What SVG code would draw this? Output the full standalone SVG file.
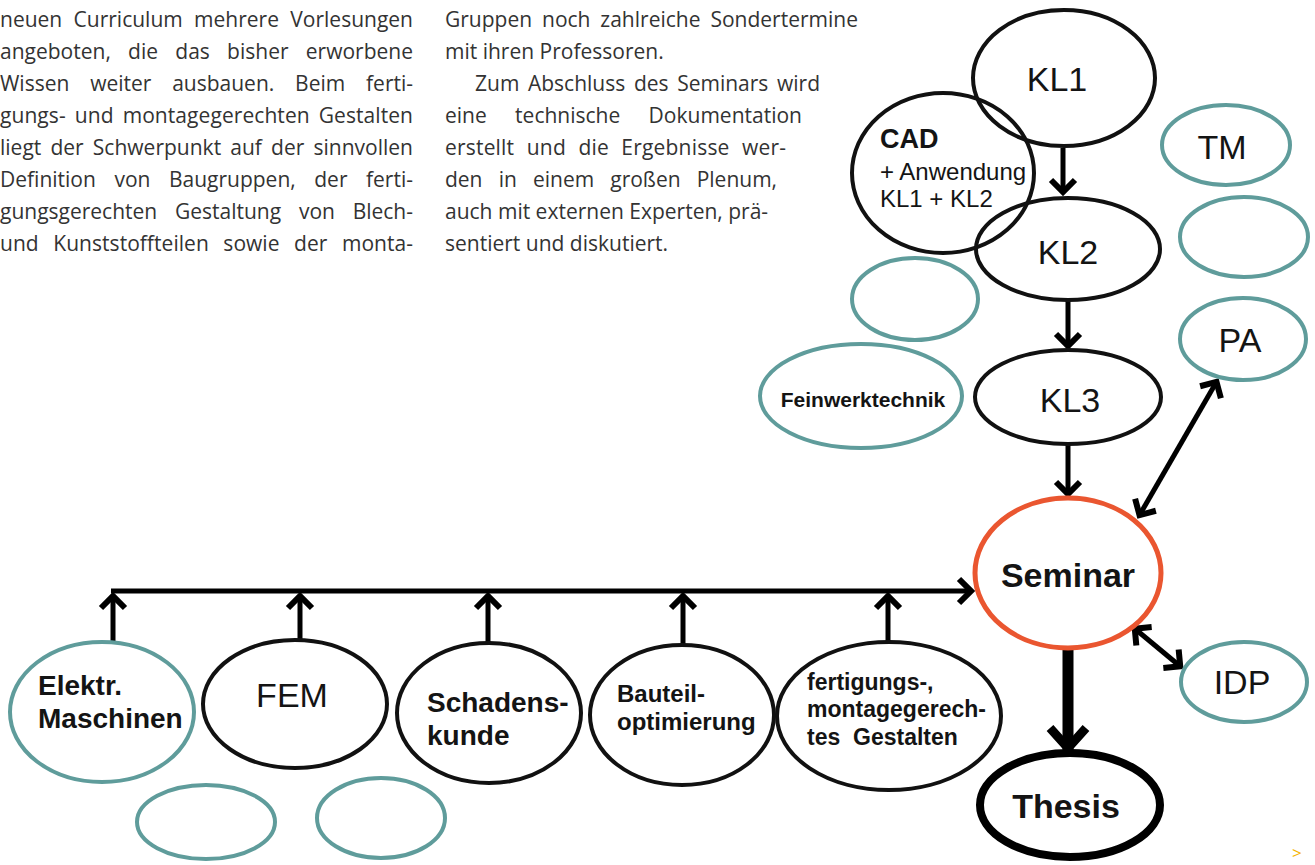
<svg xmlns="http://www.w3.org/2000/svg" width="1315" height="865" viewBox="0 0 1315 865">
<style>
.para{font-family:"Open Sans","Liberation Sans",sans-serif;font-size:21px;fill:#333;}
.lbl{font-family:"Liberation Sans",Arial,sans-serif;fill:#141414;}
.big{font-size:34px;}
.bold{font-weight:bold;}
.blk{fill:none;stroke:#111;stroke-width:4;}
.teal{fill:none;stroke:#5f9c9b;stroke-width:4;}
.red{fill:none;stroke:#ea5630;stroke-width:5;}
.con{fill:none;stroke:#000;stroke-width:5;}
.pre{white-space:pre;}
</style>
<defs>
<marker id="chev" markerUnits="userSpaceOnUse" markerWidth="36" markerHeight="36" viewBox="-18 -18 36 36" refX="0" refY="0" orient="auto-start-reverse">
<path d="M-13,-12 L-1,0 L-13,12" fill="none" stroke="#000" stroke-width="6"/>
</marker>
<marker id="chevBig" markerUnits="userSpaceOnUse" markerWidth="50" markerHeight="50" viewBox="-25 -25 50 50" refX="0" refY="0" orient="auto">
<path d="M-22,-18 L-2,0 L-22,18" fill="none" stroke="#000" stroke-width="9"/>
</marker>
</defs>
<rect width="1315" height="865" fill="#fff"/>

<g id="text-col1" class="para">
<text x="0" y="27" word-spacing="5.9" textLength="413" lengthAdjust="spacing">neuen Curriculum mehrere Vorlesungen</text>
<text x="0" y="59" word-spacing="11.8" textLength="413" lengthAdjust="spacing">angeboten, die das bisher erworbene</text>
<text x="0" y="91" word-spacing="15.4" textLength="413" lengthAdjust="spacing">Wissen weiter ausbauen. Beim ferti-</text>
<text x="0" y="123" word-spacing="3.5" textLength="413" lengthAdjust="spacing">gungs- und montagegerechten Gestalten</text>
<text x="0" y="155" word-spacing="3.7" textLength="413" lengthAdjust="spacing">liegt der Schwerpunkt auf der sinnvollen</text>
<text x="0" y="187" word-spacing="13.1" textLength="413" lengthAdjust="spacing">Definition von Baugruppen, der ferti-</text>
<text x="0" y="219" word-spacing="12.3" textLength="413" lengthAdjust="spacing">gungsgerechten Gestaltung von Blech-</text>
<text x="0" y="251" word-spacing="9" textLength="413" lengthAdjust="spacing">und Kunststoffteilen sowie der monta-</text>
</g>
<g id="text-col2" class="para">
<text x="445" y="27" word-spacing="4.4" textLength="413" lengthAdjust="spacing">Gruppen noch zahlreiche Sondertermine</text>
<text x="445" y="59">mit ihren Professoren.</text>
<text x="475" y="91" word-spacing="3.2" textLength="345" lengthAdjust="spacing">Zum Abschluss des Seminars wird</text>
<text x="445" y="123" word-spacing="22.9" textLength="357" lengthAdjust="spacing">eine technische Dokumentation</text>
<text x="445" y="155" word-spacing="6.8" textLength="341" lengthAdjust="spacing">erstellt und die Ergebnisse wer-</text>
<text x="445" y="187" word-spacing="10.7" textLength="332" lengthAdjust="spacing">den in einem großen Plenum,</text>
<text x="445" y="219">auch mit externen Experten, prä-</text>
<text x="445" y="251">sentiert und diskutiert.</text>
</g>

<g id="connectors">
<line class="con" x1="1063" y1="148" x2="1063" y2="193" marker-end="url(#chev)"/>
<line class="con" x1="1068" y1="300" x2="1068" y2="347" marker-end="url(#chev)"/>
<line class="con" x1="1068" y1="445" x2="1068" y2="495" marker-end="url(#chev)"/>
<line class="con" x1="1139" y1="516" x2="1217" y2="381" marker-start="url(#chev)" marker-end="url(#chev)"/>
<line class="con" x1="1134" y1="628" x2="1181" y2="667" marker-start="url(#chev)" marker-end="url(#chev)"/>
<line x1="1068" y1="650" x2="1068" y2="750" stroke="#000" stroke-width="11" marker-end="url(#chevBig)"/>
<line class="con" x1="111" y1="591" x2="972" y2="591" marker-end="url(#chev)"/>
<line class="con" stroke-width="6" x1="113" y1="642" x2="113" y2="595" marker-end="url(#chev)"/>
<line class="con" stroke-width="6" x1="300" y1="640" x2="300" y2="595" marker-end="url(#chev)"/>
<line class="con" stroke-width="6" x1="488" y1="643" x2="488" y2="595" marker-end="url(#chev)"/>
<line class="con" stroke-width="6" x1="683" y1="645" x2="683" y2="595" marker-end="url(#chev)"/>
<line class="con" stroke-width="6" x1="888" y1="643" x2="888" y2="595" marker-end="url(#chev)"/>
</g>

<g id="KL1"><ellipse class="blk" cx="1064" cy="78" rx="91" ry="68"/><text class="lbl big" x="1057" y="91" text-anchor="middle">KL1</text></g>
<g id="CAD"><ellipse class="blk" cx="943" cy="173" rx="91" ry="80"/>
<text class="lbl bold" x="880" y="148" font-size="27">CAD</text>
<text class="lbl" x="880" y="180" font-size="24">+ Anwendung</text>
<text class="lbl" x="880" y="207" font-size="24">KL1 + KL2</text></g>
<g id="KL2"><ellipse class="blk" cx="1068" cy="249" rx="92" ry="51"/><text class="lbl big" x="1068" y="264" text-anchor="middle">KL2</text></g>
<g id="TM"><ellipse class="teal" cx="1226" cy="145" rx="64" ry="40"/><text class="lbl big" x="1222" y="159" text-anchor="middle">TM</text></g>
<g id="empty-right"><ellipse class="teal" cx="1244" cy="237" rx="64" ry="40"/></g>
<g id="empty-left"><ellipse class="teal" cx="915" cy="299" rx="63" ry="41"/></g>
<g id="Feinwerktechnik"><ellipse class="teal" cx="861" cy="396" rx="101" ry="52"/><text class="lbl bold" x="863" y="407" font-size="21" text-anchor="middle">Feinwerktechnik</text></g>
<g id="KL3"><ellipse class="blk" cx="1068" cy="397" rx="93" ry="47"/><text class="lbl big" x="1070" y="412" text-anchor="middle">KL3</text></g>
<g id="PA"><ellipse class="teal" cx="1243" cy="339" rx="63" ry="41"/><text class="lbl big" x="1240" y="352" text-anchor="middle">PA</text></g>
<g id="Seminar"><ellipse class="red" cx="1068" cy="573" rx="93" ry="75"/><text class="lbl big bold" x="1068" y="587" text-anchor="middle">Seminar</text></g>
<g id="IDP"><ellipse class="teal" cx="1244" cy="682" rx="63" ry="40"/><text class="lbl big" x="1242" y="694" text-anchor="middle">IDP</text></g>
<g id="Thesis"><ellipse cx="1070" cy="805" rx="90" ry="52" fill="none" stroke="#000" stroke-width="8"/><text class="lbl big bold" x="1066" y="818" text-anchor="middle">Thesis</text></g>

<g id="Elektr"><ellipse class="teal" cx="102" cy="712" rx="92" ry="70"/>
<text class="lbl bold" x="38" y="695" font-size="28">Elektr.</text>
<text class="lbl bold" x="38" y="728" font-size="28">Maschinen</text></g>
<g id="FEM"><ellipse class="blk" cx="295" cy="704" rx="92" ry="64"/><text class="lbl big" x="292" y="707" text-anchor="middle">FEM</text></g>
<g id="Schadenskunde"><ellipse class="blk" cx="489" cy="713" rx="92" ry="70"/>
<text class="lbl bold" x="427" y="712" font-size="28">Schadens-</text>
<text class="lbl bold" x="427" y="745" font-size="28">kunde</text></g>
<g id="Bauteiloptimierung"><ellipse class="blk" cx="682" cy="715" rx="92" ry="70"/>
<text class="lbl bold" x="617" y="702" font-size="24">Bauteil-</text>
<text class="lbl bold" x="617" y="730" font-size="24">optimierung</text></g>
<g id="Gestalten"><ellipse class="blk" cx="889" cy="716" rx="112" ry="74"/>
<text class="lbl bold" x="807" y="690" font-size="23">fertigungs-,</text>
<text class="lbl bold" x="807" y="717" font-size="23">montagegerech-</text>
<text class="lbl bold pre" x="807" y="745" font-size="23">tes  Gestalten</text></g>
<g id="empty-bottom-1"><ellipse class="teal" cx="206" cy="822" rx="69" ry="37"/></g>
<g id="empty-bottom-2"><ellipse class="teal" cx="381" cy="818" rx="64" ry="40"/></g>

<text x="1292" y="859" font-family="Open Sans, Liberation Sans, sans-serif" font-size="17" fill="#f5b400">&gt;</text>
</svg>
